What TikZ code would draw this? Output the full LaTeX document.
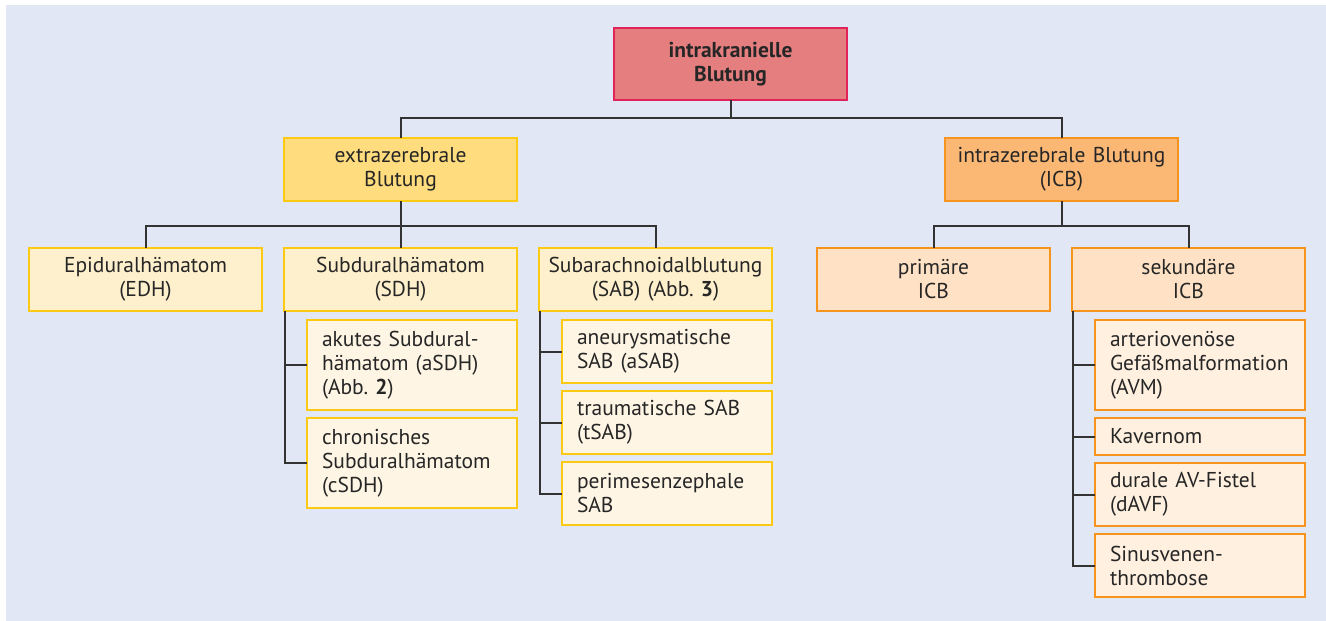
\documentclass[tikz,border=0pt]{standalone}
\usepackage{fontspec}
\setmainfont{PT Sans}
\usetikzlibrary{positioning}
\definecolor{bgblue}{HTML}{E1E7F4}
\definecolor{rootfill}{HTML}{E57E7E}
\definecolor{rootline}{HTML}{E0245A}
\definecolor{yelfill}{HTML}{FFDC7D}
\definecolor{yelline}{HTML}{FCCA12}
\definecolor{yelsub}{HTML}{FFF0CD}
\definecolor{yelleaf}{HTML}{FEF5E4}
\definecolor{orafill}{HTML}{FBB774}
\definecolor{oraline}{HTML}{F7941E}
\definecolor{orasub}{HTML}{FFE2C6}
\definecolor{oraleaf}{HTML}{FFF0E0}
\definecolor{conn}{HTML}{333333}
\frenchspacing
\tikzstyle{box} = [rectangle, anchor=north west, inner sep=0pt, outer sep=0pt, line width=2pt, text=black!85, font=\fontsize{21.5}{24}\selectfont]
\tikzstyle{mid} = [box, minimum width=233, minimum height=63, text width=225, align=center]
\tikzstyle{leaf} = [box, minimum width=210, minimum height=63, text width=180, inner xsep=15pt, inner ysep=0pt, align=left]
\tikzstyle{root} = [mid, minimum height=72, fill=rootfill, draw=rootline, font=\fontsize{21.5}{24}\selectfont\bfseries]
\tikzstyle{yelbox} = [mid, fill=yelfill, draw=yelline]
\tikzstyle{orabox} = [mid, fill=orafill, draw=oraline]
\tikzstyle{yelmid} = [mid, fill=yelsub, draw=yelline]
\tikzstyle{oramid} = [mid, fill=orasub, draw=oraline]
\tikzstyle{yelleaf} = [leaf, fill=yelleaf, draw=yelline]
\tikzstyle{oraleaf} = [leaf, fill=oraleaf, draw=oraline]
\begin{document}
\begin{tikzpicture}[x=1pt, y=-1pt, node distance=8pt]
    \tikzset{link/.style={draw=conn, line width=2pt}}
\useasboundingbox (0,0) rectangle (1326,621);
\fill[bgblue] (6,5) rectangle (1326,621);

\node (root) [root] at (614,28) {intrakranielle\\Blutung};
\node (extra) [yelbox] at (284,138) {extrazerebrale\\Blutung};
\node (intra) [orabox] at (945,138) {intrazerebrale Blutung\\(ICB)};

\node (EDH) [yelmid] at (29,248) {Epiduralhämatom\\(EDH)};
\node (SDH) [yelmid] at (284,248) {Subduralhämatom\\(SDH)};
\node (SAB) [yelmid] at (539,248) {Subarachnoidalblutung\\(SAB) (Abb. \textbf{3})};
\node (prim) [oramid] at (817,248) {primäre\\ICB};
\node (sek) [oramid] at (1072,248) {sekundäre\\ICB};

\node (aSDH) [yelleaf, minimum height=90] at (307,320) {akutes Subdural-\\hämatom (aSDH)\\(Abb. \textbf{2})};
\node (cSDH) [yelleaf, minimum height=90, below=of aSDH.south west, anchor=north west] {chronisches\\Subduralhämatom\\(cSDH)};

\node (aSAB) [yelleaf] at (562,320) {aneurysmatische\\SAB (aSAB)};
\node (tSAB) [yelleaf, below=of aSAB.south west, anchor=north west] {traumatische SAB\\(tSAB)};
\node (pSAB) [yelleaf, below=of tSAB.south west, anchor=north west] {perimesenzephale\\SAB};

\node (AVM) [oraleaf, minimum height=90] at (1095,320) {arteriovenöse\\Gefäßmalformation\\(AVM)};
\node (kav) [oraleaf, minimum height=37, below=of AVM.south west, anchor=north west] {Kavernom};
\node (dAVF) [oraleaf, below=of kav.south west, anchor=north west] {durale AV-Fistel\\(dAVF)};
\node (sinus) [oraleaf, below=of dAVF.south west, anchor=north west] {Sinusvenen-\\thrombose};

% Baum
\draw [link] (root.south) -- ++(0,18) -| (extra.north);
\draw [link] (root.south) -- ++(0,18) -| (intra.north);
\draw [link] (extra.south) -- ++(0,25) -| (EDH.north);
\draw [link] (extra.south) -- (SDH.north);
\draw [link] (extra.south) -- ++(0,25) -| (SAB.north);
\draw [link] (intra.south) -- ++(0,25) -| (prim.north);
\draw [link] (intra.south) -- ++(0,25) -| (sek.north);

\draw [link] ([xshift=1pt]SDH.south west) |- (aSDH.west);
\draw [link] ([xshift=1pt]SDH.south west) |- (cSDH.west);
\draw [link] ([xshift=1pt]SAB.south west) |- (aSAB.west);
\draw [link] ([xshift=1pt]SAB.south west) |- (tSAB.west);
\draw [link] ([xshift=1pt]SAB.south west) |- (pSAB.west);
\draw [link] ([xshift=1pt]sek.south west) |- (AVM.west);
\draw [link] ([xshift=1pt]sek.south west) |- (kav.west);
\draw [link] ([xshift=1pt]sek.south west) |- (dAVF.west);
\draw [link] ([xshift=1pt]sek.south west) |- (sinus.west);
\end{tikzpicture}
\end{document}
